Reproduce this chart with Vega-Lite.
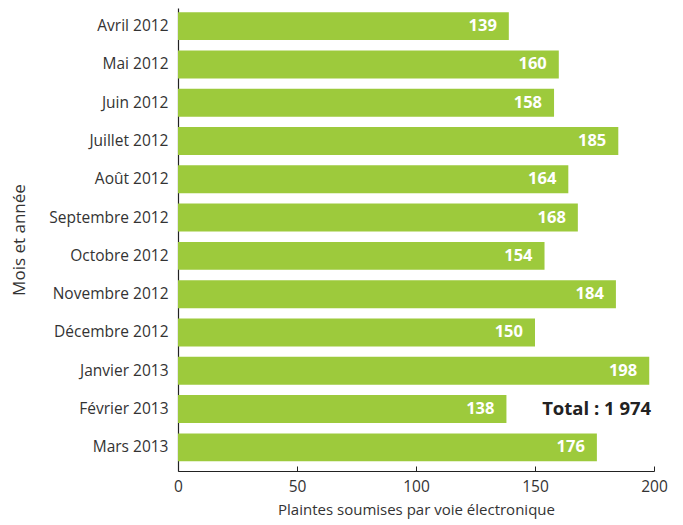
{
  "$schema": "https://vega.github.io/schema/vega-lite/v6.json",
  "autosize": "none",
  "width": 476,
  "height": 463,
  "padding": {"left": 178, "top": 8, "right": 29, "bottom": 54},
  "background": "white",
  "config": {"view": {"stroke": null}, "font": "Open Sans"},
  "datasets": {
    "main": [
      {"mois": "Avril 2012", "plaintes": 139},
      {"mois": "Mai 2012", "plaintes": 160},
      {"mois": "Juin 2012", "plaintes": 158},
      {"mois": "Juillet 2012", "plaintes": 185},
      {"mois": "Août 2012", "plaintes": 164},
      {"mois": "Septembre 2012", "plaintes": 168},
      {"mois": "Octobre 2012", "plaintes": 154},
      {"mois": "Novembre 2012", "plaintes": 184},
      {"mois": "Décembre 2012", "plaintes": 150},
      {"mois": "Janvier 2013", "plaintes": 198},
      {"mois": "Février 2013", "plaintes": 138},
      {"mois": "Mars 2013", "plaintes": 176}
    ],
    "total": [
      {"mois": "Février 2013", "x": 153, "label": "Total : 1 974"}
    ]
  },
  "layer": [
    {
      "data": {"name": "main"},
      "mark": {"type": "bar", "color": "#9dca3c"},
      "encoding": {
        "y": {
          "field": "mois", "type": "nominal", "sort": null,
          "scale": {"paddingInner": 0.27, "paddingOuter": 0.18, "align": 0.3},
          "axis": {"title": "Mois et année", "titleFontSize": 17, "titleFontWeight": "normal", "titleColor": "#333", "titlePadding": 20,
                   "labelFontSize": 15.5, "labelColor": "#333", "ticks": false, "labelPadding": 10,
                   "domainColor": "#222", "domainWidth": 1.2}
        },
        "x": {
          "field": "plaintes", "type": "quantitative",
          "scale": {"domain": [0, 200], "nice": false},
          "axis": {"title": "Plaintes soumises par voie électronique", "titleFontSize": 15, "titleFontWeight": "normal", "titleColor": "#333", "titlePadding": 8,
                   "labelFontSize": 15.5, "labelColor": "#333", "values": [0, 50, 100, 150, 200], "grid": false, "labelFlush": false,
                   "tickSize": -5, "tickColor": "#222", "labelPadding": 13,
                   "domainColor": "#222", "domainWidth": 1.2}
        }
      }
    },
    {
      "data": {"name": "main"},
      "mark": {"type": "text", "align": "right", "dx": -12, "color": "white", "fontWeight": "bold", "fontSize": 16.5},
      "encoding": {
        "y": {"field": "mois", "type": "nominal", "sort": null},
        "x": {"field": "plaintes", "type": "quantitative"},
        "text": {"field": "plaintes", "type": "quantitative"}
      }
    },
    {
      "data": {"name": "total"},
      "mark": {"type": "text", "align": "left", "color": "#222", "fontWeight": "bold", "fontSize": 18.5},
      "encoding": {
        "y": {"field": "mois", "type": "nominal", "sort": null},
        "x": {"field": "x", "type": "quantitative"},
        "text": {"field": "label", "type": "nominal"}
      }
    }
  ]
}
